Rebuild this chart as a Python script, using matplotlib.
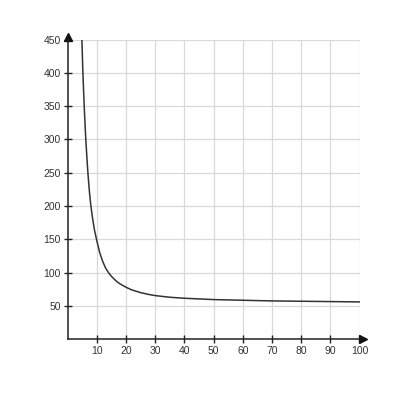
import matplotlib
matplotlib.use('Agg')
import matplotlib.pyplot as plt

# values
x_vals = [4.9, 5.2, 5.45, 5.7, 6.0, 6.25, 6.55, 6.9, 7.4, 7.9, 8.5, 9.2, 10, 11, 12,
          13, 14, 15, 16, 17, 18, 20, 22, 25, 28, 30, 35, 40, 45, 50, 60, 70, 80, 90, 100]
y_vals = [450, 405, 376, 349, 320, 299, 277, 253, 225, 203, 183, 164, 148, 130, 117,
          107, 100, 94.5, 90, 86, 83, 78, 74, 70, 67, 65.5, 63, 61.5, 60.5, 59.5, 58.5, 57.5, 57, 56.5, 56]

x_ticks = [10, 20, 30, 40, 50, 60, 70, 80, 90, 100]
y_ticks = [50, 100, 150, 200, 250, 300, 350, 400, 450]

plt.rcParams['font.family'] = ['Liberation Sans', 'DejaVu Sans']

fig = plt.figure(figsize=(4, 4), dpi=100)
ax = fig.add_axes([0.169, 0.152, 0.730, 0.749])

ax.plot(x_vals, y_vals, color='#333333', linewidth=1.1, zorder=3)

ax.set_xlim(0, 100)
ax.set_ylim(0, 450)
ax.set_xticks(x_ticks)
ax.set_yticks(y_ticks)
ax.grid(True, color='#d9d9d9', linewidth=0.9)
ax.set_axisbelow(True)

for s in ['top', 'right']:
    ax.spines[s].set_visible(False)
for s in ['left', 'bottom']:
    ax.spines[s].set_color('#222222')
    ax.spines[s].set_linewidth(1.1)

ax.tick_params(direction='inout', length=6, width=1, color='#222222',
               labelsize=7.5, labelcolor='#333333', pad=2)

# arrow heads at the axis ends
ax.plot(1.012, 0, '>', color='#111111', markersize=6, transform=ax.transAxes, clip_on=False)
ax.plot(0, 1.01, '^', color='#111111', markersize=6, transform=ax.transAxes, clip_on=False)

fig.savefig('out.png', dpi=100)
